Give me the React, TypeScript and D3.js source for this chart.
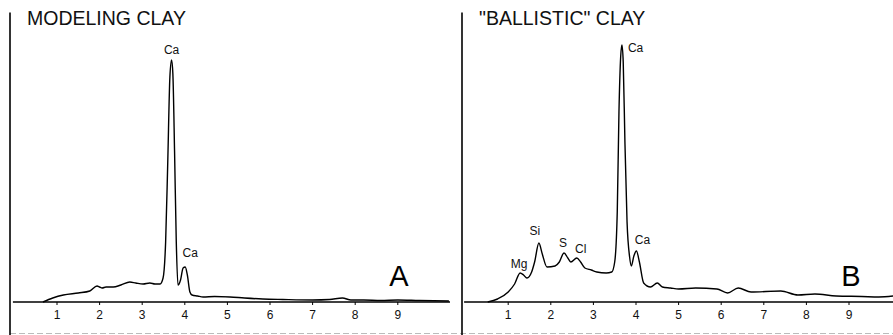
import React from "react";
import * as d3 from "d3";

// ---------- data ----------
const ticksKeV = [1, 2, 3, 4, 5, 6, 7, 8, 9];

// Panel A: modeling clay (keV, counts)
const energyA = [0.67, 0.9, 1.15, 1.5, 1.77, 1.94, 2.0, 2.06, 2.15, 2.32, 2.5, 2.71, 2.85, 3.02, 3.18, 3.3, 3.42, 3.49, 3.55, 3.6, 3.65, 3.69, 3.72, 3.76, 3.8, 3.84, 3.9, 3.96, 4.01, 4.06, 4.12, 4.17, 4.3, 4.43, 4.7, 5.06, 5.4, 5.83, 6.3, 7.0, 7.4, 7.7, 7.9, 8.2, 8.6, 9.0, 9.5, 10.2];
const countsA = [0, 4, 7, 9, 11, 16, 15, 14, 15, 15, 17, 20, 19, 18, 19, 18, 18, 24, 60, 140, 225, 242, 228, 150, 60, 17, 22, 34, 35, 27, 10, 7, 6, 5, 5.5, 5, 4, 3, 2.5, 2, 2.5, 4, 2, 2, 1.5, 2, 1.5, 1];

// Panel B: "ballistic" clay (keV, counts)
const energyB = [0.52, 0.75, 1.0, 1.15, 1.28, 1.36, 1.44, 1.55, 1.62, 1.72, 1.8, 1.91, 2.1, 2.2, 2.31, 2.4, 2.47, 2.61, 2.7, 2.8, 2.95, 3.08, 3.3, 3.43, 3.5, 3.56, 3.6, 3.64, 3.67, 3.7, 3.74, 3.79, 3.85, 3.89, 3.95, 4.01, 4.08, 4.18, 4.34, 4.5, 4.62, 4.81, 5.0, 5.4, 5.9, 6.15, 6.4, 6.7, 7.4, 7.8, 8.2, 8.7, 9.3, 9.7, 10.05];
const countsB = [0, 3, 10, 18, 29, 27, 24, 30, 40, 59, 48, 35, 36, 40, 49, 44, 40, 44, 40, 34, 32, 30, 29, 30, 40, 90, 190, 245, 257, 240, 160, 80, 45, 36, 46, 51, 40, 19, 15, 19, 15, 14, 13, 14, 13, 9, 14, 10, 11, 7, 8, 6, 5.5, 5, 6];

const titleA = "MODELING CLAY";
const titleB = "\"BALLISTIC\" CLAY";
const peaksA = [
  { label: "Ca", e: 3.69, c: 242 },
  { label: "Ca", e: 4.01, c: 35 },
];
const peaksB = [
  { label: "Mg", e: 1.28, c: 29 },
  { label: "Si", e: 1.72, c: 59 },
  { label: "S", e: 2.31, c: 49 },
  { label: "Cl", e: 2.61, c: 44 },
  { label: "Ca", e: 3.67, c: 257 },
  { label: "Ca", e: 4.01, c: 51 },
];

const FONT = "'Liberation Sans', Arial, Helvetica, sans-serif";

type Peak = { label: string; e: number; c: number };

function Panel(props: {
  x0: number; xEnd: number; lineX: number; title: string; letter: string; letterX: number;
  energy: number[]; counts: number[]; peaks: Peak[]; labelOffsets: { dx: number; dy: number; anchor: string }[];
}) {
  const { x0, xEnd, lineX, title, letter, letterX, energy, counts, peaks, labelOffsets } = props;
  const x = d3.scaleLinear().domain([0, 10]).range([x0, x0 + 426]);
  const y = d3.scaleLinear().domain([0, 260]).range([302, 42]);
  const pts: [number, number][] = energy.map((e, i) => [e, counts[i]]);
  const line = d3
    .line<[number, number]>()
    .x((d) => x(d[0]))
    .y((d) => y(d[1]))
    .curve(d3.curveMonotoneX);
  return (
    <g>
      <line x1={lineX} x2={lineX} y1={12.5} y2={335} stroke="#000" strokeWidth={1.6} />
      <text x={lineX + 17} y={25} fontFamily={FONT} fontSize={19.5} fill="#111">{title}</text>
      <line x1={x0 - 1.5} x2={xEnd} y1={302} y2={302} stroke="#000" strokeWidth={1.4} />
      {ticksKeV.map((t) => (
        <g key={t}>
          <line x1={x(t)} x2={x(t)} y1={302} y2={305} stroke="#000" strokeWidth={1} />
          <text x={x(t)} y={319} textAnchor="middle" fontFamily={FONT} fontSize={12} fill="#111">{t}</text>
        </g>
      ))}
      <path d={line(pts) || ""} fill="none" stroke="#000" strokeWidth={1.4} strokeLinejoin="round" />
      {peaks.map((p, i) => (
        <text
          key={i}
          x={x(p.e) + labelOffsets[i].dx}
          y={y(p.c) + labelOffsets[i].dy}
          textAnchor={labelOffsets[i].anchor as any}
          fontFamily={FONT}
          fontSize={12}
          fill="#111"
        >
          {p.label}
        </text>
      ))}
      <text x={letterX} y={286} textAnchor="middle" fontFamily={FONT} fontSize={29} fill="#000">{letter}</text>
    </g>
  );
}

export default function App() {
  return (
    <svg
      width={893}
      height={335}
      style={{ position: "absolute", left: 0, top: 0, background: "#fff" }}
      xmlns="http://www.w3.org/2000/svg"
    >
      <rect width={893} height={335} fill="#fff" />
      <line x1={10} x2={893} y1={333.5} y2={333.5} stroke="#bbb" strokeWidth={1} strokeDasharray="6 3" />
      <Panel
        x0={14.4}
        xEnd={450}
        lineX={10}
        title={titleA}
        letter="A"
        letterX={399}
        energy={energyA}
        counts={countsA}
        peaks={peaksA}
        labelOffsets={[
          { dx: 0, dy: -6, anchor: "middle" },
          { dx: 5, dy: -10, anchor: "middle" },
        ]}
      />
      <Panel
        x0={465.6}
        xEnd={893}
        lineX={462}
        title={titleB}
        letter="B"
        letterX={851}
        energy={energyB}
        counts={countsB}
        peaks={peaksB}
        labelOffsets={[
          { dx: -1, dy: -5, anchor: "middle" },
          { dx: -4, dy: -8, anchor: "middle" },
          { dx: -1, dy: -6, anchor: "middle" },
          { dx: 4, dy: -5, anchor: "middle" },
          { dx: 6, dy: 7, anchor: "start" },
          { dx: 6, dy: -7, anchor: "middle" },
        ]}
      />
    </svg>
  );
}
